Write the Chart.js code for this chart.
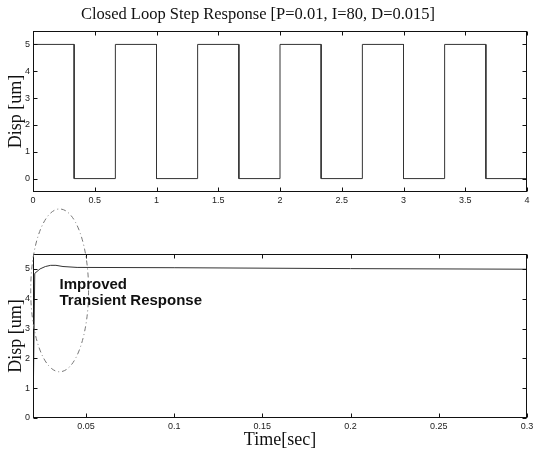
<!DOCTYPE html>
<html><head><meta charset="utf-8">
<script src="https://cdn.jsdelivr.net/npm/chart.js@4.4.0/dist/chart.umd.min.js"></script>
<style>
html,body{margin:0;padding:0;background:#fff;}
#wrap{position:relative;width:533px;height:457px;overflow:hidden;background:#fff;}
canvas{position:absolute;left:0;}
#c1{top:0;}
#c2{top:205px;}
</style></head><body>
<div id="wrap"><canvas id="c1" width="533" height="215"></canvas><canvas id="c2" width="533" height="252"></canvas></div>
<script>
const titleText = 'Closed Loop Step Response [P=0.01, I=80, D=0.015]';
const yLabel = 'Disp [um]';
const xLabel = 'Time[sec]';
const noteLines = ['Improved', 'Transient Response'];

// top: square-wave tracking
const stepTime = [0, 0, 0.333, 0.333, 0.667, 0.667, 1.0, 1.0, 1.333, 1.333, 1.667, 1.667, 2.0, 2.0, 2.333, 2.333, 2.667, 2.667, 3.0, 3.0, 3.333, 3.333, 3.667, 3.667, 4.0];
const stepDisp = [0, 5, 5, 0, 0, 5, 5, 0, 0, 5, 5, 0, 0, 5, 5, 0, 0, 5, 5, 0, 0, 5, 5, 0, 0];

// bottom: single step, zoomed
const respTime = [0.02, 0.021, 0.024, 0.027, 0.030, 0.033, 0.037, 0.045, 0.1, 0.2, 0.3];
const respDisp = [0, 4.85, 5.0, 5.08, 5.12, 5.12, 5.08, 5.05, 5.04, 5.01, 4.99];

const topXTicks = [0, 0.5, 1, 1.5, 2, 2.5, 3, 3.5, 4];
const topYTicks = [0, 1, 2, 3, 4, 5];
const botXTicks = [0.05, 0.1, 0.15, 0.2, 0.25, 0.3];
const botYTicks = [0, 1, 2, 3, 4, 5];

// annotation (data coordinates)
const ellipseCenter = [0.0351, 4.28];
const ellipseRadius = [0.0164, 2.73];
const noteAt = [0.035, 4.34];

const SERIF = '"Liberation Serif", "Times New Roman", serif';
const SANS = '"Liberation Sans", Arial, sans-serif';

const frame = {
  id: 'frame',
  afterDatasetsDraw(chart) {
    const {ctx, chartArea: a, scales: {x, y}} = chart;
    ctx.save();
    ctx.strokeStyle = '#111';
    ctx.lineWidth = 1;
    const l = Math.round(a.left) + 0.5, r = Math.round(a.right) - 0.5;
    const t = Math.round(a.top) + 0.5, b = Math.round(a.bottom) - 0.5;
    ctx.strokeRect(l, t, r - l, b - t);
    const L = 4;
    ctx.beginPath();
    x.ticks.forEach(tk => {
      const px = Math.round(x.getPixelForValue(tk.value)) + 0.5;
      ctx.moveTo(px, b); ctx.lineTo(px, b - L);
      ctx.moveTo(px, t); ctx.lineTo(px, t + L);
    });
    y.ticks.forEach(tk => {
      const py = Math.round(y.getPixelForValue(tk.value)) + 0.5;
      ctx.moveTo(l, py); ctx.lineTo(l + L, py);
      ctx.moveTo(r, py); ctx.lineTo(r - L, py);
    });
    ctx.stroke();
    ctx.restore();
  }
};

const heading = {
  id: 'heading',
  afterDraw(chart) {
    const ctx = chart.ctx;
    ctx.save();
    ctx.font = '16.5px ' + SERIF;
    ctx.fillStyle = '#111';
    ctx.textAlign = 'center';
    ctx.textBaseline = 'middle';
    ctx.fillText(titleText, 258, 15);
    ctx.restore();
  }
};

const note = {
  id: 'note',
  afterDraw(chart) {
    const {ctx, scales: {x, y}} = chart;
    const cx = x.getPixelForValue(ellipseCenter[0]);
    const cy = y.getPixelForValue(ellipseCenter[1]);
    const rx = Math.abs(x.getPixelForValue(ellipseCenter[0] + ellipseRadius[0]) - cx);
    const ry = Math.abs(y.getPixelForValue(ellipseCenter[1] + ellipseRadius[1]) - cy);
    ctx.save();
    ctx.strokeStyle = '#777';
    ctx.lineWidth = 1;
    ctx.setLineDash([5, 3, 1, 3]);
    ctx.beginPath();
    ctx.ellipse(cx, cy, rx, ry, 0, 0, Math.PI * 2);
    ctx.stroke();
    ctx.setLineDash([]);
    ctx.font = 'bold 15px ' + SANS;
    ctx.fillStyle = '#111';
    ctx.textBaseline = 'alphabetic';
    const nx = x.getPixelForValue(noteAt[0]);
    const ny = y.getPixelForValue(noteAt[1]);
    noteLines.forEach((s, i) => ctx.fillText(s, nx, ny + i * 16));
    ctx.restore();
  }
};

function pts(xs, ys) { return xs.map((v, i) => ({x: v, y: ys[i]})); }

function makeChart(el, cfg) {
  return new Chart(el, {
    type: 'line',
    data: {datasets: [{data: pts(cfg.xs, cfg.ys), borderColor: '#333', borderWidth: 1, pointRadius: 0, tension: 0, fill: false}]},
    plugins: cfg.plugins,
    options: {
      responsive: false,
      animation: false,
      events: [],
      layout: {padding: cfg.padding},
      plugins: {
        legend: {display: false},
        tooltip: {enabled: false},
        title: {display: false}
      },
      scales: {
        x: {
          type: 'linear', min: cfg.xMin, max: cfg.xMax,
          grid: {display: false, drawTicks: false},
          border: {display: false},
          afterBuildTicks: s => { s.ticks = cfg.xTicks.map(v => ({value: v})); },
          afterFit: s => { s.height = cfg.xH; s.paddingLeft = 0; s.paddingRight = 0; },
          ticks: {autoSkip: false, maxRotation: 0, padding: 3, color: '#222', font: {family: SANS, size: 9}, callback: v => String(v)},
          title: cfg.xTitle ? {display: true, text: cfg.xTitle, color: '#111', font: {family: SERIF, size: 18}, padding: {top: 0, bottom: 6}} : {display: false}
        },
        y: {
          type: 'linear', min: cfg.yMin, max: cfg.yMax,
          grid: {display: false, drawTicks: false},
          border: {display: false},
          afterBuildTicks: s => { s.ticks = cfg.yTicks.map(v => ({value: v})); },
          afterFit: s => { s.width = 33; s.paddingTop = 0; s.paddingBottom = 0; },
          ticks: {autoSkip: false, padding: 3, color: '#222', font: {family: SANS, size: 9}, callback: v => String(v)},
          title: {display: true, text: yLabel, color: '#111', font: {family: SERIF, size: 18}, padding: {top: 5, bottom: 0}}
        }
      }
    }
  });
}

makeChart(document.getElementById('c1'), {
  xs: stepTime, ys: stepDisp, xMin: 0, xMax: 4, yMin: -0.5, yMax: 5.5,
  xTicks: topXTicks, yTicks: topYTicks, xTitle: null,
  padding: {left: 0, right: 6, top: 31, bottom: 0}, xH: 23, plugins: [frame, heading]
});

makeChart(document.getElementById('c2'), {
  xs: respTime, ys: respDisp, xMin: 0.02, xMax: 0.3, yMin: 0, yMax: 5.5,
  xTicks: botXTicks, yTicks: botYTicks, xTitle: xLabel,
  padding: {left: 0, right: 6, top: 49, bottom: 0}, xH: 39, plugins: [frame, note]
});
</script>
</body></html>
